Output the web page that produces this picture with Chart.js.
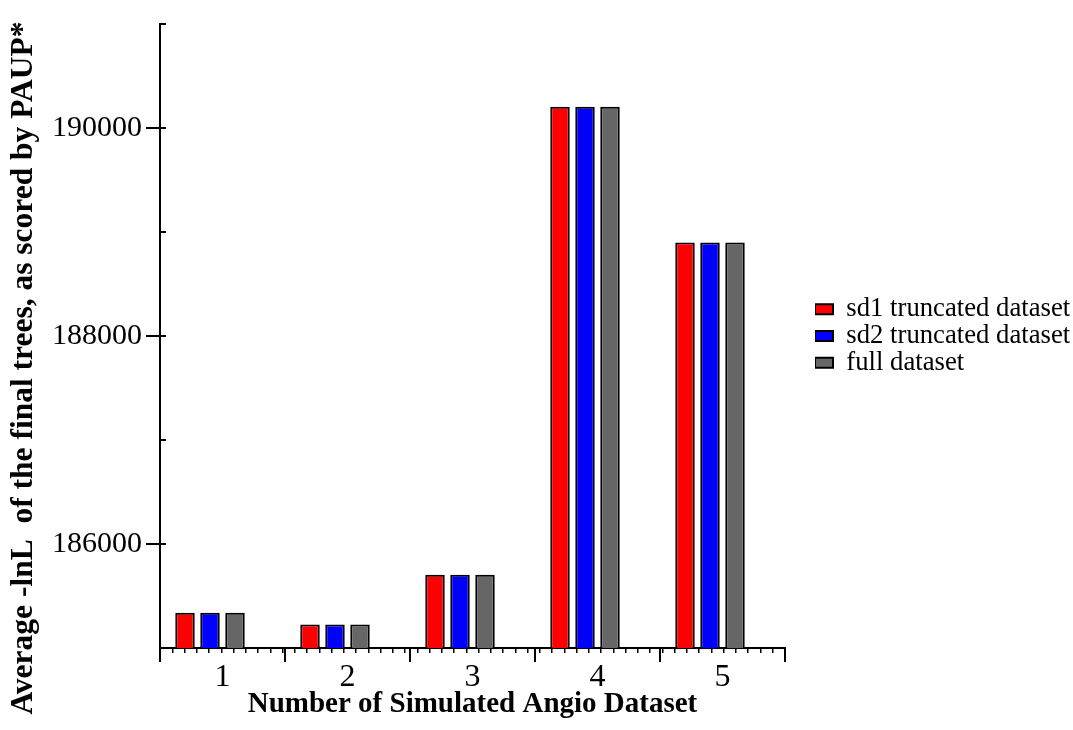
<!DOCTYPE html>
<html>
<head>
<meta charset="utf-8">
<title>Average -lnL by simulated Angio dataset</title>
<script src="https://cdn.jsdelivr.net/npm/chart.js@4.4.1/dist/chart.umd.min.js"></script>
<style>
  html, body { margin: 0; padding: 0; background: #fff; }
  #wrap { position: relative; width: 1073px; height: 730px; }
</style>
</head>
<body>
<div id="wrap"><canvas id="chart"></canvas></div>
<script>
// Average -lnL per simulated Angio dataset, one bar per scoring run
const datasetLabels = ['1', '2', '3', '4', '5'];
const sd1Truncated = [185340, 185225, 185705, 190205, 188900];
const sd2Truncated = [185340, 185225, 185705, 190205, 188900];
const fullDataset = [185340, 185225, 185705, 190205, 188900];

const yMin = 185000;
const yMax = 191000;
const yMajorTicks = [186000, 188000, 190000];

const serif = 'Liberation Serif, Times New Roman, serif';
const yTitleText = 'Average -lnL  of the final trees, as scored by PAUP*';

// rotated y title, centred on the whole canvas height rather than the axis
const yTitle = {
    id: 'yTitle',
    afterDraw(chart) {
        const ctx = chart.ctx;
        ctx.save();
        ctx.translate(24, chart.height / 2 + 3);
        ctx.rotate(-Math.PI / 2);
        ctx.font = 'bold 31.5px ' + serif;
        ctx.fillStyle = '#000';
        ctx.textAlign = 'center';
        ctx.textBaseline = 'middle';
        ctx.fillText(yTitleText, 0, 0);
        ctx.restore();
    }
};

const black = '#000';

new Chart(document.getElementById('chart'), {
    type: 'bar',
    data: {
        labels: datasetLabels,
        datasets: [
            { label: 'sd1 truncated dataset', data: sd1Truncated, backgroundColor: '#ff0000', borderColor: black, borderWidth: 2, xAxisID: 'x', yAxisID: 'y' },
            { label: 'sd2 truncated dataset', data: sd2Truncated, backgroundColor: '#0000ff', borderColor: black, borderWidth: 2, xAxisID: 'x', yAxisID: 'y' },
            { label: 'full dataset', data: fullDataset, backgroundColor: '#666666', borderColor: black, borderWidth: 2, xAxisID: 'x', yAxisID: 'y' },
            // empty fourth slot so each trio sits left of its label
            { label: '', data: datasetLabels.map(() => null), xAxisID: 'x', yAxisID: 'y' },
        ],
    },
    options: {
        responsive: true,
        maintainAspectRatio: false,
        animation: false,
        layout: { padding: { top: 24, right: 0, bottom: 0, left: 0 } },
        datasets: {
            bar: { categoryPercentage: 0.8, barPercentage: 0.78 },
        },
        plugins: {
            tooltip: { enabled: false },
            legend: {
                position: 'right',
                fullSize: false,
                maxWidth: 258,
                labels: {
                    boxWidth: 18,
                    boxHeight: 10,
                    padding: 0,
                    color: black,
                    font: { family: serif, size: 26.7 },
                    filter: (item) => item.text !== '',
                },
            },
        },
        scales: {
            x: {
                type: 'category',
                grid: { offset: true, drawOnChartArea: false, color: black, lineWidth: 2, tickLength: 14 },
                border: { display: true, color: black, width: 2 },
                ticks: { color: black, padding: 0, maxRotation: 0, font: { family: serif, size: 32, lineHeight: 1 } },
                title: {
                    display: true,
                    text: 'Number of Simulated Angio Dataset',
                    color: black,
                    font: { family: serif, size: 29, weight: 'bold', lineHeight: 1.2 },
                    padding: { top: 0, bottom: 8 },
                },
                afterFit: (scale) => { scale.height = 82; },
            },
            // minor ticks along the bottom, ten per category (units of 0.1)
            xMinor: {
                type: 'linear',
                axis: 'x',
                position: { y: yMin },
                min: 5,
                max: 55,
                ticks: { display: false, stepSize: 1 },
                grid: { drawOnChartArea: false, color: black, lineWidth: 1.5, tickLength: 5 },
                border: { display: false },
            },
            y: {
                type: 'linear',
                min: yMin,
                max: yMax,
                afterBuildTicks: (scale) => { scale.ticks = yMajorTicks.map((v) => ({ value: v })); },
                ticks: { color: black, padding: 4, callback: (v) => String(v), font: { family: serif, size: 30 } },
                grid: { drawOnChartArea: false, color: black, lineWidth: 2, tickLength: 14 },
                border: { display: true, color: black, width: 2 },
                afterFit: (scale) => { scale.width = 160; },
            },
            yMinor: {
                type: 'linear',
                axis: 'y',
                position: { xMinor: 5 },
                min: yMin,
                max: yMax,
                ticks: { display: false, stepSize: 1000 },
                grid: { drawOnChartArea: false, color: black, lineWidth: 2, tickLength: 6 },
                border: { display: false },
            },
            // spacer between the plot and the legend
            yGap: {
                type: 'linear',
                position: 'right',
                grid: { display: false },
                border: { display: false },
                ticks: { display: false },
                afterFit: (scale) => { scale.width = 30; },
            },
        },
    },
    plugins: [yTitle],
});
</script>
</body>
</html>
